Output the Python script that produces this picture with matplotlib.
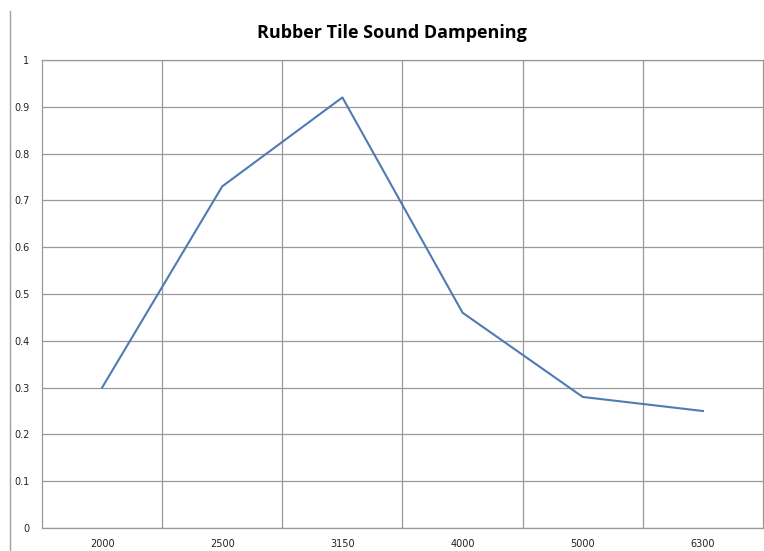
import matplotlib.pyplot as plt
from matplotlib.lines import Line2D
import numpy as np

freqs = ['2000', '2500', '3150', '4000', '5000', '6300']
absorption = [0.30, 0.73, 0.92, 0.46, 0.28, 0.25]

fig = plt.figure(figsize=(7.64, 5.51), dpi=100)
ax = fig.add_axes([42/764, 23/551, 721/764, 468/551])

x = np.arange(len(freqs))
ax.plot(x, absorption, color='#4f7bb5', lw=1.5)

ax.set_xlim(-0.5, len(freqs) - 0.5)
ax.set_ylim(0, 1)
ax.set_xticks(x)
ax.set_xticklabels(freqs)
ax.set_xticks(np.arange(0.5, len(freqs) - 0.5), minor=True)
ax.set_yticks(np.arange(0, 1.01, 0.1))
ax.set_yticklabels(['0', '0.1', '0.2', '0.3', '0.4', '0.5', '0.6', '0.7', '0.8', '0.9', '1'])

ax.grid(True, axis='y', which='major', color='#999999', lw=0.9)
ax.grid(True, axis='x', which='minor', color='#999999', lw=0.9)
ax.tick_params(which='both', length=0, labelsize=7, colors='#222222')
ax.tick_params(axis='x', pad=8)
ax.tick_params(axis='y', pad=9)
for s in ax.spines.values():
    s.set_color('#999999')
    s.set_linewidth(0.9)
ax.set_axisbelow(True)

fig.text(392/764, 1 - 33/551, 'Rubber Tile Sound Dampening', ha='center', va='center',
         fontsize=13, fontweight='bold', family='Open Sans')

# chart frame edge on the left
fig.add_artist(Line2D([10/764, 10/764], [0, 1 - 11/551], transform=fig.transFigure,
                      color='#a0a0a0', lw=1))

fig.savefig('out.png', dpi=100)
